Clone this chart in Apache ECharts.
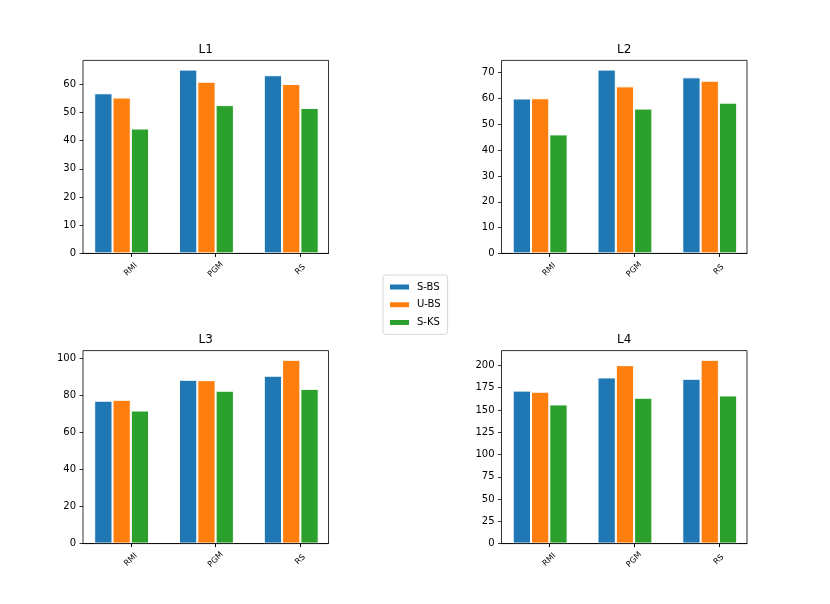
<!DOCTYPE html>
<html>
<head>
<meta charset="utf-8">
<script src="https://cdn.jsdelivr.net/npm/echarts@6/dist/echarts.min.js"></script>
<style>
  html, body { margin: 0; padding: 0; background: #fff; }
  #chart { width: 830px; height: 604px; }
</style>
</head>
<body>
<div id="chart"></div>
<script>
// ---- data ----
const categories = ['RMI', 'PGM', 'RS'];
const seriesNames = ['S-BS', 'U-BS', 'S-KS'];
const panelTitles = ['L1', 'L2', 'L3', 'L4'];

const L1_SBS = [56.8, 65.2, 63.2];
const L1_UBS = [55.3, 60.9, 60.1];
const L1_SKS = [44.3, 52.6, 51.6];

const L2_SBS = [60.0, 71.2, 68.2];
const L2_UBS = [60.1, 64.7, 66.9];
const L2_SKS = [46.1, 56.1, 58.4];

const L3_SBS = [77.2, 88.5, 90.7];
const L3_UBS = [77.7, 88.3, 99.3];
const L3_SKS = [71.9, 82.6, 83.6];

const L4_SBS = [171.7, 186.5, 185.0];
const L4_UBS = [170.5, 200.3, 206.3];
const L4_SKS = [156.2, 163.7, 166.3];

const L1_TICKS = [0, 10, 20, 30, 40, 50, 60];
const L2_TICKS = [0, 10, 20, 30, 40, 50, 60, 70];
const L3_TICKS = [0, 20, 40, 60, 80, 100];
const L4_TICKS = [0, 25, 50, 75, 100, 125, 150, 175, 200];

const panelData = [
  [L1_SBS, L1_UBS, L1_SKS],
  [L2_SBS, L2_UBS, L2_SKS],
  [L3_SBS, L3_UBS, L3_SKS],
  [L4_SBS, L4_UBS, L4_SKS]
];
const panelTicks = [L1_TICKS, L2_TICKS, L3_TICKS, L4_TICKS];

// ---- layout / style ----
const colors = ['#1f77b4', '#ff7f0e', '#2ca02c'];
const FONT = 'DejaVu Sans';
const frames = [
  { l: 83, t: 60.4 }, { l: 501.5, t: 60.4 },
  { l: 83, t: 350.6 }, { l: 501.5, t: 350.6 }
];
const W = 245.5, H = 193;
const U = W / 2.895;        // px per category step
const BAR_W = 18.3;
const TICK_OFF = 47.8;      // frame left -> first tick
const CENTER_OFF = 38.65;   // frame left -> first group centre

const grids = [], xAxes = [], yAxes = [], series = [], titles = [];

frames.forEach((f, k) => {
  const ticks = panelTicks[k];
  const data = panelData[k];
  const ymax = 1.05 * Math.max(...data.flat());

  grids.push({
    left: f.l, top: f.t, width: W, height: H,
    show: true, borderColor: '#000', borderWidth: 0.8,
    backgroundColor: 'transparent', outerBoundsMode: 'none', containLabel: false
  });
  grids.push({
    left: f.l + CENTER_OFF - U / 2, top: f.t, width: 3 * U, height: H,
    show: false, outerBoundsMode: 'none', containLabel: false
  });

  const xmin = -TICK_OFF / U;
  xAxes.push({
    type: 'value', gridIndex: 2 * k, min: xmin, max: xmin + W / U, z: 5,
    position: 'bottom',
    axisLine: { show: true, onZero: false, lineStyle: { color: '#000', width: 0.8 } },
    axisTick: { show: true, length: 3.5, customValues: [0, 1, 2], lineStyle: { color: '#000', width: 1 } },
    axisLabel: {
      show: true, customValues: [0, 1, 2], rotate: 45, margin: 16,
      align: 'center', verticalAlign: 'middle',
      fontSize: 8, fontFamily: FONT, color: '#000',
      formatter: v => categories[Math.round(v)] || ''
    },
    splitLine: { show: false }
  });
  xAxes.push({
    type: 'category', gridIndex: 2 * k + 1, data: categories, show: false, boundaryGap: true
  });

  yAxes.push({
    type: 'value', gridIndex: 2 * k, min: 0, max: ymax, z: 5, position: 'left',
    axisLine: { show: false, onZero: false },
    axisTick: { show: true, length: 3.5, customValues: ticks, lineStyle: { color: '#000', width: 0.8 } },
    axisLabel: { show: true, customValues: ticks, margin: 7, fontSize: 10, fontFamily: FONT, color: '#000' },
    splitLine: { show: false }
  });
  yAxes.push({
    type: 'value', gridIndex: 2 * k + 1, min: 0, max: ymax, show: false, splitLine: { show: false }
  });

  seriesNames.forEach((name, s) => {
    series.push({
      type: 'bar', name: name,
      xAxisIndex: 2 * k + 1, yAxisIndex: 2 * k + 1,
      data: data[s], barWidth: BAR_W, barGap: '0%',
      itemStyle: { color: colors[s], borderColor: '#fff', borderWidth: 1 },
      emphasis: { disabled: true }, animation: false
    });
  });

  titles.push({
    text: panelTitles[k], left: f.l + W / 2, textAlign: 'center', top: f.t - 16.4,
    padding: 0,
    textStyle: { fontSize: 12, fontWeight: 'normal', fontFamily: FONT, color: '#000' }
  });
});

const chart = echarts.init(document.getElementById('chart'), null, { renderer: 'canvas' });
chart.setOption({
  animation: false,
  backgroundColor: '#fff',
  color: colors,
  title: titles,
  grid: grids,
  xAxis: xAxes,
  yAxis: yAxes,
  series: series,
  legend: {
    data: seriesNames, orient: 'vertical', left: 383, top: 275,
    padding: [6, 7, 6, 5], itemWidth: 21, itemHeight: 7, itemGap: 5.7,
    icon: 'rect', borderColor: '#d6d6d6', borderWidth: 1, borderRadius: 3,
    backgroundColor: 'rgba(255,255,255,0.8)',
    textStyle: { fontSize: 10, fontFamily: FONT, color: '#000', lineHeight: 12, padding: [0, 0, 0, 2] },
    selectedMode: false
  }
});
</script>
</body>
</html>
